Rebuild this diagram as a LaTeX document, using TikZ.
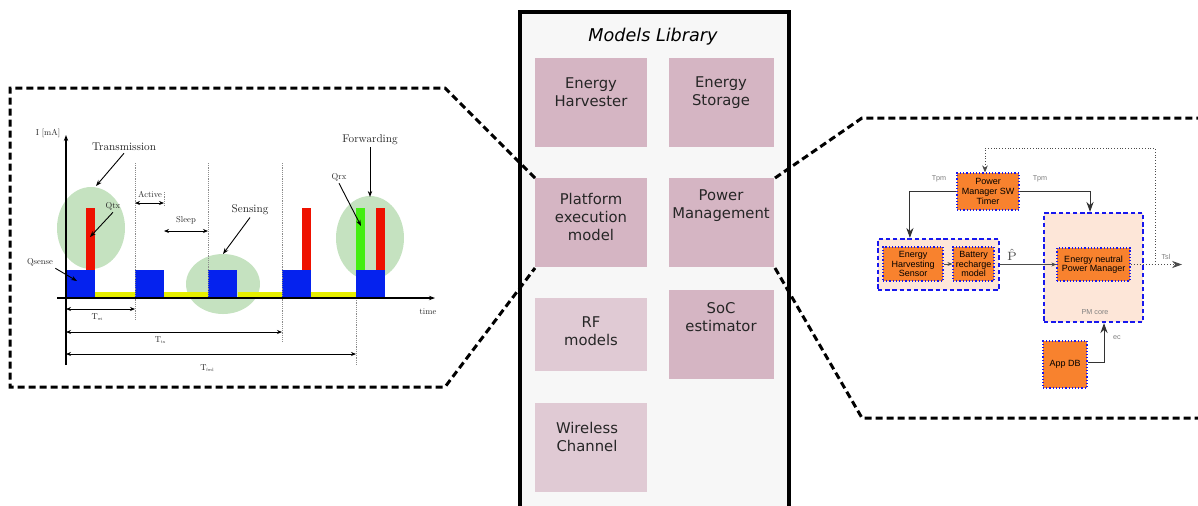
\documentclass[tikz,border=0pt]{standalone}
\usepackage{fontspec}
\newfontfamily\dv{DejaVu Sans}
\newfontfamily\lib{Liberation Sans}
\newfontfamily\lmt[Extension=.otf]{lmroman10-regular}
\usetikzlibrary{arrows.meta,calc}
\definecolor{libbg}{HTML}{F7F7F7}
\definecolor{pinkA}{HTML}{D5B5C3}
\definecolor{pinkB}{HTML}{E0CAD4}
\definecolor{ellg}{HTML}{C5E2C0}
\definecolor{bblue}{HTML}{0522EE}
\definecolor{bred}{HTML}{EE1100}
\definecolor{bgreen}{HTML}{44EE11}
\definecolor{byel}{HTML}{E6EE00}
\definecolor{orng}{HTML}{F8822E}
\definecolor{peach}{HTML}{FDE6D8}
\definecolor{dblue}{HTML}{1818EE}
\newcommand{\tsub}[2]{#1\raisebox{-0.6pt}{\fontsize{2.3}{3}\selectfont #2}}
\tikzset{
  panel/.style={line width=1.5pt, dash pattern=on 3.5pt off 2pt},
  pinkbox/.style={fill=pinkA, draw=none},
  pinklight/.style={fill=pinkB, draw=none},
  libtxt/.style={font=\dv\fontsize{7.4}{9}\selectfont, align=center, text=black!85},
  bigl/.style={font=\lmt\fontsize{5.6}{6}\selectfont, inner sep=1pt, text=black!85},
  smalll/.style={font=\lmt\fontsize{4.3}{5}\selectfont, inner sep=1pt, text=black!85},
  ptr/.style={-{Stealth[length=3pt,width=2.2pt]}, line width=0.45pt},
  dim/.style={{Stealth[length=2.5pt,width=2pt]}-{Stealth[length=2.5pt,width=2pt]}, line width=0.4pt},
  vdot/.style={gray!90, line width=0.3pt, dash pattern=on 0.6pt off 0.5pt},
  orbox/.style={fill=orng, draw=dblue, densely dotted, line width=0.6pt, align=center, font=\lib\fontsize{4.5}{4.8}\selectfont, inner sep=0pt},
  grpbox/.style={fill=peach, draw=dblue, line width=1.1pt, dash pattern=on 2.2pt off 1.4pt, inner sep=0pt},
  conn/.style={-{Stealth[length=5pt,width=3.6pt]}, line width=0.5pt, black!80},
  sconn/.style={-{Stealth[length=2.5pt,width=2pt]}, line width=0.5pt, black!70},
  glab/.style={font=\lib\fontsize{3.6}{4}\selectfont, text=gray, inner sep=0.5pt}
}
\begin{document}
\begin{tikzpicture}[x=0.5pt,y=-0.5pt]
\useasboundingbox (0,0) rectangle (1198,505);
% ---------- middle library ----------
\fill[libbg] (520,12) rectangle (789,515);
\draw[line width=2pt] (520,515) -- (520,12) -- (789,12) -- (789,515);
\node[font=\dv\itshape\fontsize{8.8}{10}\selectfont] (title) at (653,37) {Models Library};
\fill[pinkbox] (535,58) rectangle (647,147);
\fill[pinkbox] (669,58) rectangle (774,147);
\fill[pinkbox] (535,178) rectangle (647,267);
\fill[pinkbox] (669,178) rectangle (774,267);
\fill[pinklight] (535,298) rectangle (647,371);
\fill[pinkbox] (669,290) rectangle (774,379);
\fill[pinklight] (535,403) rectangle (647,492);
\node[libtxt] (eh) at (591,92) {Energy\\Harvester};
\node[libtxt] (es) at (721,93) {Energy\\Storage};
\node[libtxt] (pe) at (591,217) {Platform\\execution\\model};
\node[libtxt] (pm) at (721,205.5) {Power\\Management};
\node[libtxt] (rf) at (591,331.5) {RF\\models};
\node[libtxt] (soc) at (721,317.5) {SoC\\estimator};
\node[libtxt] (wc) at (587,437) {Wireless\\Channel};
% ---------- panel outlines ----------
\draw[panel] (535,178) -- (445,88) -- (10,88) -- (10,387) -- (445,387) -- (535,268);
\draw[panel] (775,178) -- (862,118) -- (1200,118);
\draw[panel] (775,268) -- (862,418) -- (1200,418);
% ---------- timing diagram ----------
\fill[ellg] (91,228) ellipse [x radius=17pt, y radius=20.5pt];
\fill[ellg] (223,284) ellipse [x radius=18.5pt, y radius=15pt];
\fill[ellg] (370,238) ellipse [x radius=17pt, y radius=21pt];
\foreach \a/\b in {95/135,164/208,238/282,311/356} \fill[byel] (\a,292) rectangle (\b,298);
\foreach \a in {66,135,208,282,356} \fill[bblue] (\a,270) rectangle ++(29,28);
\fill[bred] (86,208) rectangle (95,270);
\fill[bred] (302,208) rectangle (311,270);
\fill[bgreen] (356,208) rectangle (365,270);
\fill[bred] (376,208) rectangle (385,270);
\draw[vdot] (135,163) -- (135,320);
\draw[vdot] (164,192) -- (164,206);
\draw[vdot] (208,163) -- (208,298);
\draw[vdot] (282,163) -- (282,343);
\draw[vdot] (356,298) -- (356,365);
\draw[-{Stealth[length=3pt,width=2.2pt]}, line width=0.55pt] (66,365) -- (66,135);
\draw[-{Stealth[length=3pt,width=2.2pt]}, line width=0.55pt] (57,298) -- (435,298);
\draw[dim] (135,203) -- (164,203);
\draw[dim] (164,231) -- (208,231);
\draw[dim] (66,309) -- (135,309);
\draw[dim] (66,332) -- (282,332);
\draw[dim] (66,354) -- (356,354);
\node[smalll] (lI) at (48,133) {I [mA]};
\node[bigl] (ltr) at (124,147) {Transmission};
\node[smalll] (lqtx) at (113,206) {Qtx};
\node[smalll] (lqs) at (40,262) {Qsense};
\node[bigl] (lse) at (250,210) {Sensing};
\node[smalll] (lqrx) at (339,177) {Qrx};
\node[bigl] (lfw) at (370,140) {Forwarding};
\node[smalll] (ltime) at (428,312) {time};
\node[smalll] (lact) at (150,194) {Active};
\node[smalll] (lsl) at (186,220) {Sleep};
\node[smalll] (ltwi) at (97,317) {\tsub{T}{wi}};
\node[smalll] (lttx) at (160,340) {\tsub{T}{tx}};
\node[smalll] (ltfw) at (207,368) {\tsub{T}{fwd}};
\coordinate (ttr) at (96,186);
\coordinate (tqtx) at (90,237);
\coordinate (tqs) at (77,281);
\coordinate (tse) at (223,254);
\coordinate (tqrx) at (361,226);
\coordinate (tfw) at (370,197);
\draw[ptr] (ltr.south) -- (ttr);
\draw[ptr] (lqtx.south) -- (tqtx);
\draw[ptr] (lqs.south east) -- (tqs);
\draw[ptr] (lse.south) -- (tse);
\draw[ptr] (lqrx.south) -- (tqrx);
\draw[ptr] (lfw.south) -- (tfw);
% ---------- power manager block diagram ----------
\node[grpbox, minimum width=60.5pt, minimum height=25.5pt] (grp) at (938.5,264.5) {};
\node[grpbox, minimum width=49.5pt, minimum height=54.5pt] (core) at (1093.5,267.5) {};
\node[orbox, minimum width=31pt, minimum height=18.5pt] (pmsw) at (988,191.5) {Power\\Manager SW\\Timer};
\node[orbox, minimum width=30pt, minimum height=17pt] (ehs) at (913,264) {Energy\\Harvesting\\Sensor};
\node[orbox, minimum width=20.5pt, minimum height=17pt] (brm) at (973.5,264) {Battery\\recharge\\model};
\node[orbox, minimum width=36.5pt, minimum height=16.5pt] (enpm) at (1093.5,264.5) {Energy neutral\\Power Manager};
\node[orbox, minimum width=22pt, minimum height=23.5pt] (appdb) at (1065,364.5) {App DB};
\node[glab] (lcore) at (1095,312) {PM core};
\node[glab] (ltpm1) at (939,179) {Tpm};
\node[glab] (ltpm2) at (1040,179) {Tpm};
\node[glab, font=\lib\fontsize{6}{6}\selectfont, text=black!70] (lp) at (1012,255) {$\hat{\mathrm{P}}$};
\node[glab] (ltsl) at (1166,257) {Tsl};
\node[glab] (lec) at (1117,338) {ec};
\draw[conn] (pmsw.west) -| ([xshift=16.5pt]grp.north west);
\draw[conn] (pmsw.east) -| ([xshift=-1.75pt]core.north);
\draw[sconn] (ehs.east) -- (brm.west);
\draw[sconn] (grp.east) -- (enpm.west);
\coordinate (fb) at (1155,264.5);
\coordinate (tsl) at (1182,264.5);
\draw[densely dotted, line width=0.5pt, black!70] (enpm.east) -- (fb);
\draw[densely dotted, line width=0.5pt, black!70, -{Stealth[length=5pt,width=3.6pt]}] (fb) -- (tsl);
\draw[densely dotted, line width=0.4pt, black!70, -{Stealth[length=3.5pt,width=2.8pt]}] (fb) -- ++(0,-116.5) -| ([xshift=-1.5pt]pmsw.north);
\draw[conn] ([yshift=1.25pt]appdb.east) -| ([xshift=5.25pt]core.south);
\end{tikzpicture}
\end{document}
